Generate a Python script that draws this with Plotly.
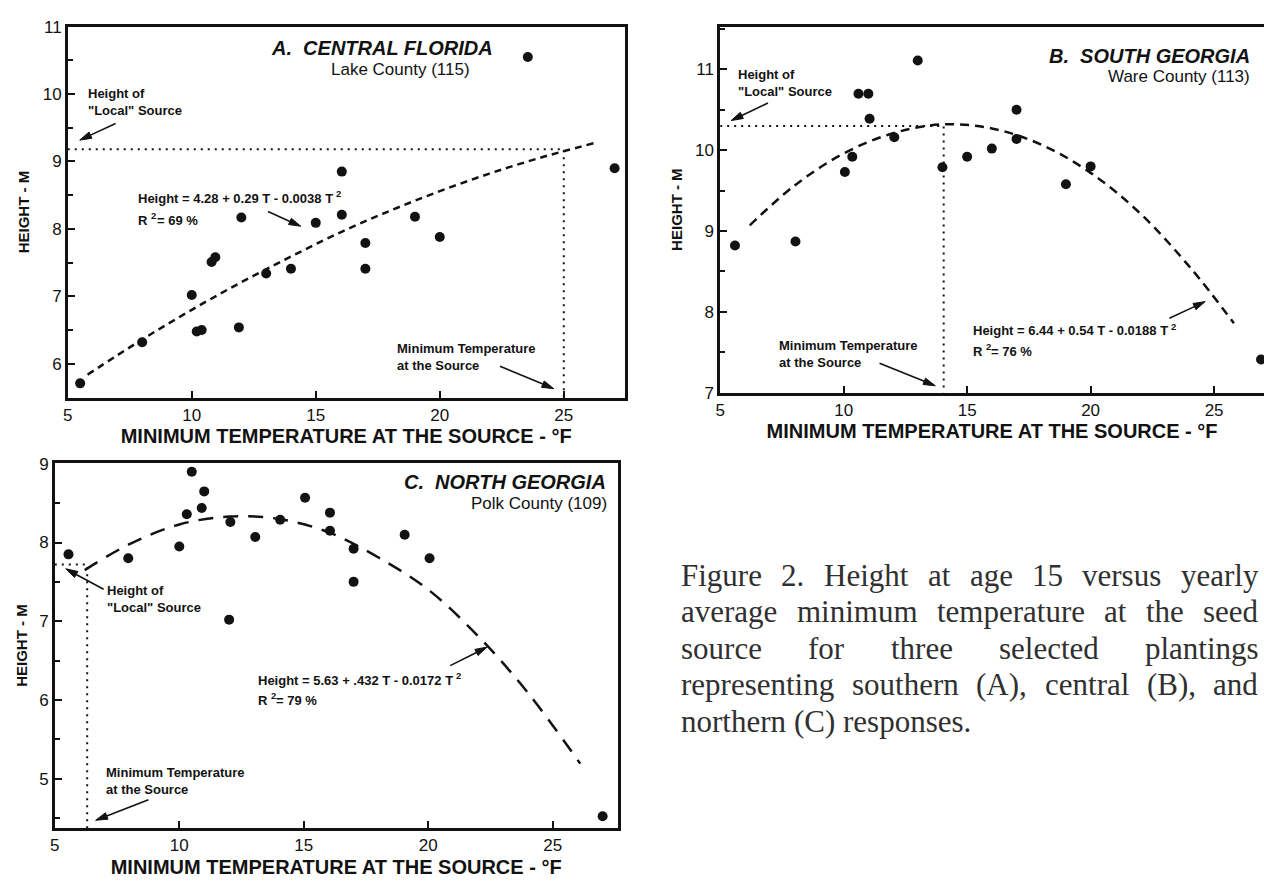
import math
import plotly.graph_objects as go

W, H = 1264, 889

# ---------------- data ----------------
X_TICKS = [5, 10, 15, 20, 25]

# A. Central Florida – Lake County (115)
A_temp = [5.5, 8.0, 10.0, 10.2, 10.4, 10.8, 10.95, 11.9, 12.0, 13.0, 14.0, 15.0,
          16.05, 16.05, 17.0, 17.0, 19.0, 20.0, 23.55, 27.05]
A_height = [5.71, 6.32, 7.02, 6.48, 6.50, 7.51, 7.58, 6.54, 8.17, 7.34, 7.41, 8.09,
            8.85, 8.21, 7.79, 7.41, 8.18, 7.88, 10.55, 8.90]
A_fit_temp = [5.8, 8, 10, 12, 14, 16, 18, 20, 22, 24, 26.2]
A_fit_height = [5.84, 6.36, 6.80, 7.21, 7.59, 7.95, 8.27, 8.56, 8.82, 9.05, 9.27]
A_local_height = 9.18
A_source_temp = 25.0
A_y_ticks = [6, 7, 8, 9, 10, 11]

# B. South Georgia – Ware County (113)
B_temp = [5.6, 8.05, 10.05, 10.35, 10.6, 11.0, 11.05, 12.05, 13.0, 14.0, 15.0,
          16.0, 17.0, 17.0, 19.0, 20.0, 26.9]
B_height = [8.82, 8.87, 9.73, 9.92, 10.70, 10.70, 10.39, 10.16, 11.11, 9.79, 9.92,
            10.02, 10.50, 10.14, 9.58, 9.80, 7.41]
B_fit_temp = [6.2, 8, 10, 12, 14, 16, 18, 20, 22, 24, 25.8]
B_fit_height = [9.07, 9.56, 9.96, 10.21, 10.32, 10.27, 10.07, 9.72, 9.22, 8.56, 7.86]
B_local_height = 10.30
B_source_temp = 14.05
B_y_ticks = [7, 8, 9, 10, 11]

# C. North Georgia – Polk County (109)
C_temp = [5.55, 7.95, 10.0, 10.5, 10.3, 10.9, 11.0, 12.05, 12.0, 13.05, 14.05,
          15.05, 16.05, 16.05, 17.0, 17.0, 19.05, 20.05, 27.0]
C_height = [7.85, 7.80, 7.95, 8.90, 8.36, 8.44, 8.65, 8.26, 7.02, 8.07, 8.29,
            8.57, 8.38, 8.15, 7.92, 7.50, 8.10, 7.80, 4.52]
C_fit_temp = [6.2, 8, 10, 12, 14, 16, 18, 20, 22, 24, 26.1]
C_fit_height = [7.65, 7.98, 8.23, 8.33, 8.30, 8.13, 7.81, 7.40, 6.81, 6.09, 5.19]
C_local_height = 7.72
C_source_temp = 6.3
C_y_ticks = [5, 6, 7, 8, 9]

X_TITLE = "MINIMUM TEMPERATURE AT THE SOURCE - °F"
Y_TITLE = "HEIGHT - M"

EQUATIONS = {
    "A": ("Height = 4.28 + 0.29 T - 0.0038 T", "69 %"),
    "B": ("Height = 6.44 + 0.54 T - 0.0188 T", "76 %"),
    "C": ("Height = 5.63 + .432 T - 0.0172 T", "79 %"),
}

CAPTION_LINES = [
    "Figure 2. Height at age 15 versus yearly",
    "average minimum temperature at the seed",
    "source for three selected plantings",
    "representing southern (A), central (B), and",
    "northern (C) responses.",
]

# ---------------- styling / layout ----------------
INK = "#121212"
SANS = "Liberation Sans, Arial, sans-serif"
SERIF = "Liberation Serif, Times New Roman, serif"

panels = {
    "A": dict(box=(63, 18, 622, 397), xr=[5, 27.45], yr=[5.5, 11.0], yt=A_y_ticks,
              mirror_y=True, ystand=10),
    "B": dict(box=(718, 18, W, 392), xr=[5, 27.02], yr=[7.0, 11.53], yt=B_y_ticks,
              mirror_y=False, ystand=9),
    "C": dict(box=(50, 464, 615, 837), xr=[5, 27.6], yr=[4.37, 9.01], yt=C_y_ticks,
              mirror_y=True, ystand=8),
}
axis_ids = {"A": ("x", "y", "xaxis", "yaxis"),
            "B": ("x2", "y2", "xaxis2", "yaxis2"),
            "C": ("x3", "y3", "xaxis3", "yaxis3")}

fig = go.Figure()

series = {
    "A": (A_temp, A_height, A_fit_temp, A_fit_height, A_local_height, A_source_temp, "7px,5px"),
    "B": (B_temp, B_height, B_fit_temp, B_fit_height, B_local_height, B_source_temp, "9px,6px"),
    "C": (C_temp, C_height, C_fit_temp, C_fit_height, C_local_height, C_source_temp, "15px,10px"),
}

layout_axes = {}
for name, p in panels.items():
    xa, ya, xkey, ykey = axis_ids[name]
    temp, height, ft, fh, lh, st, dash = series[name]
    ymin = p["yr"][0]
    xmin = p["xr"][0]
    fig.add_trace(go.Scatter(x=[xmin, st, st], y=[lh, lh, ymin], mode="lines",
                             line=dict(color=INK, width=2, dash="2px,5px"),
                             xaxis=xa, yaxis=ya, hoverinfo="skip"))
    fig.add_trace(go.Scatter(x=ft, y=fh, mode="lines", line_shape="spline",
                             line=dict(color=INK, width=2.5, dash=dash),
                             xaxis=xa, yaxis=ya))
    fig.add_trace(go.Scatter(x=temp, y=height, mode="markers",
                             marker=dict(size=10, color=INK),
                             xaxis=xa, yaxis=ya))
    l, t, r, b = p["box"]
    common = dict(showline=True, linewidth=2.5, linecolor=INK, ticks="inside",
                  ticklen=7, tickwidth=1.5, tickcolor=INK, showgrid=False,
                  zeroline=False, tickmode="array",
                  tickfont=dict(family=SANS, size=17, color=INK))
    layout_axes[xkey] = dict(common, domain=[l / W, r / W], range=p["xr"],
                             tickvals=X_TICKS, anchor=ya, mirror=True,
                             title=dict(text="<b>" + X_TITLE + "</b>", standoff=6,
                                        font=dict(family=SANS, size=20, color=INK)))
    layout_axes[ykey] = dict(common, domain=[1 - b / H, 1 - t / H], range=p["yr"],
                             tickvals=p["yt"], anchor=xa, mirror=p["mirror_y"],
                             title=dict(text="<b>" + Y_TITLE + "</b>", standoff=p["ystand"],
                                        font=dict(family=SANS, size=15, color=INK)),
                             minor=dict(tickmode="linear", tick0=0, dtick=0.5,
                                        ticks="inside", ticklen=5, tickwidth=1.5,
                                        tickcolor=INK, showgrid=False))

ann = []
shapes = []


def px(x):
    return x / W


def py(y):
    return 1 - y / H


def text(x, y, s, size, xanchor="left", family=SANS, color=INK, angle=0, align="left"):
    ann.append(dict(x=px(x), y=py(y), xref="paper", yref="paper", text=s,
                    showarrow=False, xanchor=xanchor, yanchor="middle", align=align,
                    textangle=angle, borderpad=0,
                    font=dict(family=family, size=size, color=color)))


def arrow(hx, hy, tx, ty, head_len=12, head_w=7):
    dx, dy = hx - tx, hy - ty
    L = math.hypot(dx, dy)
    ux, uy = dx / L, dy / L
    bx, by = hx - ux * head_len, hy - uy * head_len
    nx, ny = -uy, ux
    shapes.append(dict(type="line", xref="paper", yref="paper",
                       x0=px(tx), y0=py(ty), x1=px(bx), y1=py(by),
                       line=dict(color=INK, width=1.6)))
    p1 = (bx + nx * head_w / 2, by + ny * head_w / 2)
    p2 = (bx - nx * head_w / 2, by - ny * head_w / 2)
    path = "M {:.5f},{:.5f} L {:.5f},{:.5f} L {:.5f},{:.5f} Z".format(
        px(hx), py(hy), px(p1[0]), py(p1[1]), px(p2[0]), py(p2[1]))
    shapes.append(dict(type="path", xref="paper", yref="paper", path=path,
                       fillcolor=INK, line=dict(color=INK, width=1)))


# Arial Bold advance widths (per 1000 em) for laying out superscripts
AB = {" ": 278, "=": 584, "+": 584, "-": 333, ".": 278, "%": 889, "H": 722, "T": 611,
      "R": 722, "e": 556, "i": 278, "g": 611, "h": 611, "t": 333}


def bw(s, size):
    return sum(AB.get(c, 556) for c in s) / 1000 * size


SMALL = 13


def equation(x, y1, y2, key):
    eq, r2 = EQUATIONS[key]
    s1 = eq + " "
    text(x, y1, "<b>" + s1 + "</b>", SMALL)
    text(x + bw(s1, SMALL), y1 - 5, "<b>2</b>", 9.5)
    s2 = "R "
    text(x, y2, "<b>" + s2 + "</b>", SMALL)
    xs = x + bw(s2, SMALL)
    text(xs, y2 - 5, "<b>2</b>", 9.5)
    text(xs + bw("2", 9.5), y2, "<b>= " + r2 + "</b>", SMALL)


LOCAL = '<b>Height of<br>"Local" Source</b>'
MINT = "<b>Minimum Temperature<br>at the Source</b>"

# ---- Panel A ----
text(378, 40, "<b><i>A.  CENTRAL FLORIDA</i></b>", 20, xanchor="center")
text(397, 62, "Lake County (115)", 17, xanchor="center")
text(82, 95, LOCAL, SMALL)
arrow(75, 134, 111, 117)
equation(133, 194, 216, "A")
arrow(297, 222, 264, 207)
text(393, 356, MINT, SMALL)
arrow(551, 388, 497, 365)

# ---- Panel B ----
text(1251, 48, "<b><i>B.  SOUTH GEORGIA</i></b>", 20, xanchor="right")
text(1251, 69, "Ware County (113)", 17, xanchor="right")
text(735, 76, LOCAL, SMALL)
arrow(729, 114, 766, 96)
equation(971, 329, 350, "B")
arrow(1205, 299, 1169, 316)
text(776, 353, MINT, SMALL)
arrow(934, 385, 878, 362)

# ---- Panel C ----
text(604, 483, "<b><i>C.  NORTH GEORGIA</i></b>", 20, xanchor="right")
text(605, 505, "Polk County (109)", 17, xanchor="right")
text(101, 603, LOCAL, SMALL)
arrow(61, 572, 99, 593)
equation(253, 686, 707, "C")
arrow(484, 652, 447, 671)
text(100, 789, MINT, SMALL)
arrow(91, 829, 144, 808)

# ---- Caption (justified using Times metrics) ----
TW = {" ": 250, "(": 333, ")": 333, ",": 250, ".": 250, "A": 722, "B": 667, "C": 667,
      "F": 556, "H": 722, "a": 444, "b": 500, "c": 444, "d": 500, "e": 444, "f": 333,
      "g": 500, "h": 500, "i": 278, "l": 278, "m": 778, "n": 500, "o": 500, "p": 500,
      "r": 333, "s": 389, "t": 278, "u": 500, "v": 500, "y": 500, "1": 500, "2": 500,
      "5": 500}
CAP_SIZE = 31
CAP_X0, CAP_X1 = 678, 1257
CAP_Y = [579, 616, 653, 690, 728]


def tw(word):
    return sum(TW.get(c, 500) for c in word) / 1000 * CAP_SIZE


for i, line in enumerate(CAPTION_LINES):
    words = line.split()
    widths = [tw(w) for w in words]
    if i < len(CAPTION_LINES) - 1 and len(words) > 1:
        gap = (CAP_X1 - CAP_X0 - sum(widths)) / (len(words) - 1)
    else:
        gap = 0.25 * CAP_SIZE
    x = CAP_X0
    for w, wd in zip(words, widths):
        text(x, CAP_Y[i], w, CAP_SIZE, family=SERIF, color="#303030")
        x += wd + gap

fig.update_layout(
    width=W, height=H, margin=dict(l=0, r=0, t=0, b=0),
    paper_bgcolor="white", plot_bgcolor="white", showlegend=False,
    annotations=ann, shapes=shapes, **layout_axes,
)

fig.write_html("out.html")
